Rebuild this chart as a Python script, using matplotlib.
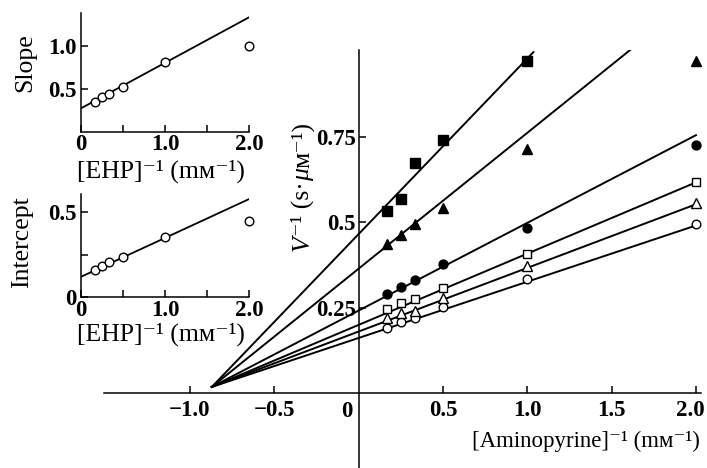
import matplotlib.pyplot as plt
import matplotlib.transforms as mtransforms

plt.rcParams['font.family'] = ['Liberation Serif', 'DejaVu Serif']

# main panel: reciprocal aminopyrine concentration (mM^-1)
ap_inv = [0.167, 0.25, 0.333, 0.5, 1.0, 2.0]

# 1/V (s·uM^-1), one list per EHP concentration (lowest 1/V first)
v_open_circle = [0.191, 0.208, 0.220, 0.251, 0.334, 0.494]
v_open_triangle = [0.220, 0.233, 0.241, 0.277, 0.371, 0.556]
v_open_square = [0.245, 0.264, 0.274, 0.308, 0.408, 0.616]
v_filled_circle = [0.289, 0.309, 0.330, 0.377, 0.482, 0.725]
v_filled_triangle = [0.435, 0.461, 0.493, 0.540, 0.713, 0.972]
v_filled_square = [0.532, 0.566, 0.672, 0.740, 0.972]

# fitted lines share a start near the common intersection
fit_start = (-0.87, 0.018)
fit_end_x = [2.0, 2.0, 2.0, 2.0, 1.625, 1.037]
fit_end_y = [0.490, 0.552, 0.616, 0.754, 1.009, 0.997]

# secondary plots against 1/[EHP]
ehp_inv = [0.167, 0.25, 0.333, 0.5, 1.0, 2.0]
slope_vals = [0.349, 0.40, 0.442, 0.523, 0.807, 1.0]
intercept_vals = [0.16, 0.183, 0.208, 0.237, 0.35, 0.448]
slope_fit = (0.272, 0.53)        # (y at 0, slope)
intercept_fit = (0.12, 0.2275)

TICK_FS = 16.5
LABEL_FS = 18.5

fig = plt.figure(figsize=(7.07, 4.68), dpi=100)

# ---- main double-reciprocal plot ----
ax = fig.add_axes([104 / 707, 0, 597 / 707, 418 / 468])
ax.set_xlim(-1.509, 2.03)
ax.set_ylim(-0.219, 1.003)
for side in ['top', 'right']:
    ax.spines[side].set_visible(False)
ax.spines['left'].set_position(('data', 0))
ax.spines['bottom'].set_position(('data', 0))
for side in ['left', 'bottom']:
    ax.spines[side].set_linewidth(1.1)

series = [v_open_circle, v_open_triangle, v_open_square,
          v_filled_circle, v_filled_triangle, v_filled_square]
markers = ['o', '^', 's', 'o', '^', 's']
faces = ['white', 'white', 'white', 'black', 'black', 'black']
sizes = [6.2, 6.6, 5.6, 6.4, 6.8, 6.6]

for vals, ex, ey, m, fc, ms in zip(series, fit_end_x, fit_end_y, markers, faces, sizes):
    ax.plot([fit_start[0], ex], [fit_start[1], ey], color='black', lw=1.4, zorder=2)
    ax.plot(ap_inv[:len(vals)], vals, ls='none', marker=m, ms=ms, mfc=fc,
            mec='black', mew=1.0, zorder=3, clip_on=False)

ax.set_xticks([-1.0, -0.5, 0.5, 1.0, 1.5, 2.0])
ax.set_xticklabels(['\u22121.0', '\u22120.5', '0.5', '1.0', '1.5', '2.0'],
                   fontsize=TICK_FS, fontweight='bold')
ax.set_yticks([0.25, 0.5, 0.75])
ax.set_yticklabels(['0.25', '0.5', '0.75'], fontsize=TICK_FS, fontweight='bold')
ax.tick_params(direction='in', length=5, width=1.1)
ax.tick_params(axis='x', pad=5)
ax.tick_params(axis='y', pad=2)
for lab in ax.get_yticklabels():
    lab.set_bbox(dict(facecolor='white', edgecolor='none', pad=0.5))
# keep the last x label inside the figure edge
last = ax.get_xticklabels()[-1]
last.set_transform(last.get_transform()
                   + mtransforms.ScaledTranslation(-4 / 72, 0, fig.dpi_scale_trans))
ax.text(-0.07, -0.022, '0', ha='center', va='top', fontsize=TICK_FS, fontweight='bold')

# y label built in pieces so V and mu can be italic
pieces = [('V', 'italic'), ('\u207b\u00b9 (s\u00b7', 'normal'),
          ('\u03bc', 'italic'), ('\u1d0d\u207b\u00b9)', 'normal')]
prev = ax.text(-0.294, 0.46, pieces[0][0], style=pieces[0][1], fontsize=LABEL_FS,
               rotation=90, rotation_mode='anchor', ha='right', va='baseline')
for txt, st in pieces[1:]:
    prev = ax.annotate(txt, xy=(-0.294, 1.0), xycoords=('data', prev),
                       style=st, fontsize=LABEL_FS, rotation=90,
                       rotation_mode='anchor', ha='left', va='baseline')

fig.text(586 / 707, 1 - 441 / 468, '[Aminopyrine]\u207b\u00b9 (m\u1d0d\u207b\u00b9)',
         ha='center', va='center', fontsize=16.5)


# ---- replots of slope and intercept ----
def replot(rect, vals, fit, ytop, yticks, yticklabels):
    a = fig.add_axes(rect)
    a.plot([0, 2.0], [fit[0], fit[0] + 2.0 * fit[1]], color='black', lw=1.3, zorder=2)
    a.plot(ehp_inv, vals, ls='none', marker='o', ms=6.2, mfc='white',
           mec='black', mew=1.0, zorder=3, clip_on=False)
    a.set_xlim(0, 2.0)
    a.set_ylim(0, ytop)
    for side in ['top', 'right']:
        a.spines[side].set_visible(False)
    for side in ['left', 'bottom']:
        a.spines[side].set_linewidth(1.1)
    a.set_xticks([0, 0.5, 1.0, 1.5, 2.0])
    a.set_xticklabels(['0', '', '1.0', '', '2.0'], fontsize=TICK_FS, fontweight='bold')
    a.set_yticks(yticks)
    a.set_yticklabels(yticklabels, fontsize=TICK_FS, fontweight='bold')
    a.tick_params(direction='in', length=5, width=1.1)
    a.tick_params(axis='x', pad=2)
    a.tick_params(axis='y', pad=3)
    return a


replot([81 / 707, 1 - 131.7 / 468, 168.3 / 707, 118.4 / 468],
       slope_vals, slope_fit, 1.377, [0.5, 1.0], ['0.5', '1.0'])
replot([81 / 707, 1 - 297.3 / 468, 168.3 / 707, 103.3 / 468],
       intercept_vals, intercept_fit, 0.604, [0, 0.25, 0.5], ['0', '', '0.5'])

ehp_label = '[EHP]\u207b\u00b9 (m\u1d0d\u207b\u00b9)'
fig.text(161 / 707, 1 - 171 / 468, ehp_label, ha='center', va='center', fontsize=LABEL_FS)
fig.text(161 / 707, 1 - 334 / 468, ehp_label, ha='center', va='center', fontsize=LABEL_FS)
fig.text(25 / 707, 1 - 63 / 468, 'Slope', rotation=90, ha='center', va='center',
         fontsize=LABEL_FS)
fig.text(22 / 707, 1 - 242 / 468, 'Intercept', rotation=90, ha='center', va='center',
         fontsize=LABEL_FS)

fig.savefig('out.png', dpi=100)
